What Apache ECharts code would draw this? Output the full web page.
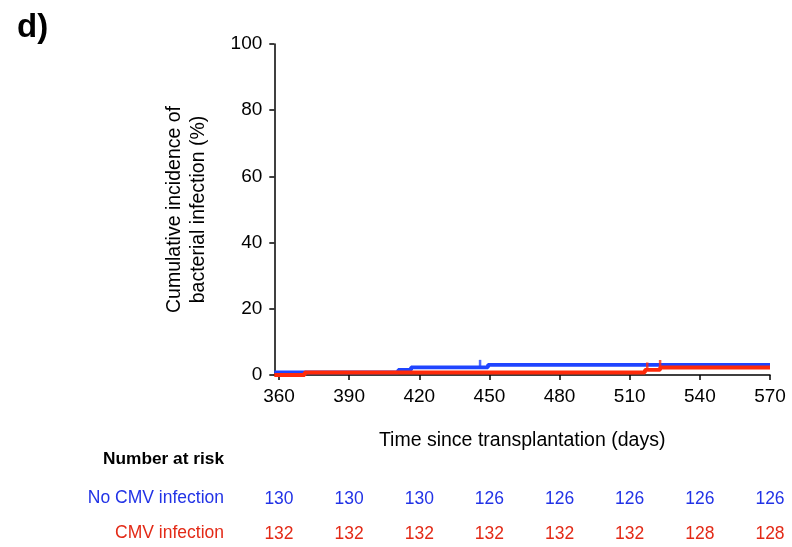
<!DOCTYPE html>
<html>
<head>
<meta charset="utf-8">
<script src="https://cdn.jsdelivr.net/npm/echarts@6/dist/echarts.min.js"></script>
<style>
html,body{margin:0;padding:0;background:#fff;}
#chart{width:792px;height:547px;}
</style>
</head>
<body>
<div id="chart"></div>
<script>
// ---- data ----
var xTicks = [360, 390, 420, 450, 480, 510, 540, 570];
var yTicks = [0, 20, 40, 60, 80, 100];
var noCmvTimes = [358, 411, 416.5, 449.4, 570];
var noCmvValues = [0.77, 1.54, 2.31, 3.08, 3.08];
var cmvTimes = [358, 371, 516.5, 523, 570];
var cmvValues = [0, 0.76, 1.52, 2.27, 2.27];
var noCmvCensorTimes = [446];
var noCmvCensorValues = [2.31];
var cmvCensorTimes = [517.5, 523];
var cmvCensorValues = [1.52, 2.27];
var atRiskTimes = [360, 390, 420, 450, 480, 510, 540, 570];
var noCmvAtRisk = [130, 130, 130, 126, 126, 126, 126, 126];
var cmvAtRisk = [132, 132, 132, 132, 132, 132, 128, 128];

var BLUE = '#1f44ff';
var RED = '#ff2a0a';
var BLUE_TXT = '#2233e6';
var RED_TXT = '#e32a17';
var FONT = '"Liberation Sans", Arial, sans-serif';

function pairs(xs, ys) { return xs.map(function (x, i) { return [x, ys[i]]; }); }

var chart = echarts.init(document.getElementById('chart'), null, {renderer: 'canvas'});

var riskAxis = function (values, color, offset) {
  return {
    type: 'value', min: 358, max: 570, position: 'bottom', offset: offset,
    axisLine: {show: false}, axisTick: {show: false}, splitLine: {show: false},
    axisLabel: {
      customValues: atRiskTimes, color: color, fontSize: 17.5, fontFamily: FONT, margin: 8,
      formatter: function (v) { var i = atRiskTimes.indexOf(v); return i >= 0 ? String(values[i]) : ''; }
    }
  };
};

chart.setOption({
  animation: false,
  backgroundColor: '#fff',
  grid: {left: 274.3, right: 22, top: 44, bottom: 172},
  xAxis: [
    {
      type: 'value', min: 358, max: 570,
      name: 'Time since transplantation (days)', nameLocation: 'middle', nameGap: 56,
      nameTextStyle: {fontSize: 19.5, fontFamily: FONT, color: '#000'},
      axisLine: {lineStyle: {color: '#000', width: 1.5}},
      axisTick: {customValues: xTicks, length: 5, lineStyle: {color: '#000', width: 1.5}},
      axisLabel: {customValues: xTicks, fontSize: 19, fontFamily: FONT, color: '#000', margin: 12},
      splitLine: {show: false}
    },
    riskAxis(noCmvAtRisk, BLUE_TXT, 107),
    riskAxis(cmvAtRisk, RED_TXT, 142)
  ],
  yAxis: {
    type: 'value', min: 0, max: 100, interval: 20,
    name: 'Cumulative incidence of\nbacterial infection (%)', nameLocation: 'middle', nameGap: 64,
    nameTextStyle: {fontSize: 19.5, fontFamily: FONT, color: '#000', lineHeight: 24},
    axisLine: {show: true, lineStyle: {color: '#000', width: 1.5}},
    axisTick: {show: true, length: 5, lineStyle: {color: '#000', width: 1.5}},
    axisLabel: {fontSize: 19, fontFamily: FONT, color: '#000', margin: 12},
    splitLine: {show: false}
  },
  series: [
    {
      type: 'line', step: 'end', data: pairs(noCmvTimes, noCmvValues), showSymbol: false,
      lineStyle: {color: BLUE, width: 3.8}, z: 2, silent: true
    },
    {
      type: 'line', step: 'end', data: pairs(cmvTimes, cmvValues), showSymbol: false,
      lineStyle: {color: RED, width: 3.8}, z: 3, silent: true
    },
    {
      type: 'scatter', data: pairs(noCmvCensorTimes, noCmvCensorValues), symbol: 'rect',
      symbolSize: [2.5, 7], symbolOffset: [0, -4], itemStyle: {color: BLUE}, z: 2, silent: true
    },
    {
      type: 'scatter', data: pairs(cmvCensorTimes, cmvCensorValues), symbol: 'rect',
      symbolSize: [2.5, 7], symbolOffset: [0, -4], itemStyle: {color: RED}, z: 3, silent: true
    }
  ],
  graphic: [
    {type: 'text', left: 17, top: 11, style: {text: 'd)', font: 'bold 33px ' + FONT, fill: '#000'}},
    {type: 'text', right: 792 - 224, top: 451, style: {text: 'Number at risk', font: 'bold 17.3px ' + FONT, fill: '#000', textAlign: 'right'}},
    {type: 'text', right: 792 - 224, top: 489, style: {text: 'No CMV infection', font: '17.5px ' + FONT, fill: BLUE_TXT, textAlign: 'right'}},
    {type: 'text', right: 792 - 224, top: 524, style: {text: 'CMV infection', font: '17.5px ' + FONT, fill: RED_TXT, textAlign: 'right'}}
  ]
});
</script>
</body>
</html>
